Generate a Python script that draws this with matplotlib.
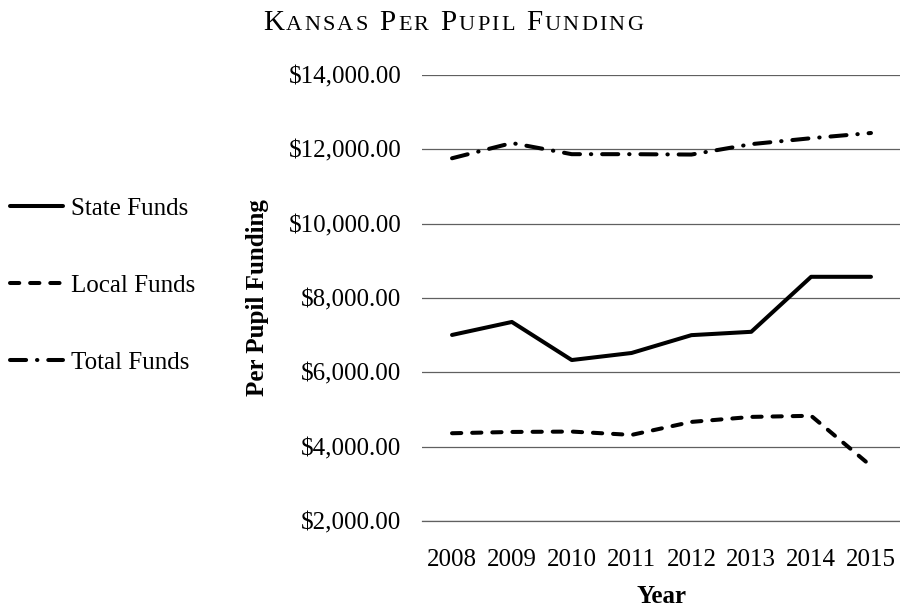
import matplotlib
matplotlib.use("Agg")
import matplotlib.pyplot as plt

years = ["2008", "2009", "2010", "2011", "2012", "2013", "2014", "2015"]
state_funds = [7005, 7355, 6330, 6520, 7000, 7090, 8570, 8570]
local_funds = [4360, 4395, 4405, 4315, 4665, 4800, 4830, 3480]
total_funds = [11760, 12170, 11870, 11870, 11860, 12140, 12300, 12440]
y_ticks = [2000, 4000, 6000, 8000, 10000, 12000, 14000]

plt.rcParams["font.family"] = ["Liberation Serif", "DejaVu Serif"]

fig = plt.figure(figsize=(9, 6.1), dpi=100)
ax = fig.add_axes([0.469, 0.146, 0.532, 0.731])

x = list(range(len(years)))
lw = 2.9
fs = 18

l1, = ax.plot(x, state_funds, color="black", lw=lw, solid_capstyle="round",
              solid_joinstyle="round", label="State Funds")
l2, = ax.plot(x, local_funds, color="black", lw=lw, linestyle=(0, (2.3, 2.7)),
              dash_capstyle="round", label="Local Funds")
l3, = ax.plot(x, total_funds, color="black", lw=lw,
              linestyle=(0, (4.0, 2.7, 0.1, 2.7)),
              dash_capstyle="round", label="Total Funds")

ax.set_xlim(-0.5, len(years) - 0.5)
ax.set_ylim(2000, 14000)
ax.set_yticks(y_ticks)
ax.set_yticklabels(["${:,.2f}".format(v) for v in y_ticks])
ax.set_xticks(x)
ax.set_xticklabels(years)
ax.tick_params(axis="both", length=0, labelsize=fs)
ax.tick_params(axis="y", pad=15)
ax.tick_params(axis="x", pad=20)
ax.grid(axis="y", color="#606060", lw=0.9)
ax.set_axisbelow(True)
for name, s in ax.spines.items():
    if name == "bottom":
        s.set_color("#606060")
        s.set_linewidth(0.9)
    else:
        s.set_visible(False)

ax.set_ylabel("Per Pupil Funding", fontsize=fs, fontweight="bold", labelpad=14)
ax.set_xlabel("Year", fontsize=fs, fontweight="bold", labelpad=10)

fig.legend(handles=[l1, l2, l3], loc="center left",
           bbox_to_anchor=(10 / 900, 1 - 286 / 610), frameon=False,
           fontsize=fs, handlelength=2.1, handletextpad=0.35,
           labelspacing=2.18, borderpad=0, borderaxespad=0)

# small caps title, letter by letter with a little tracking
title_parts = [("K", 21), ("ANSAS", 16), (" ", 0), ("P", 21), ("ER", 16),
               (" ", 0), ("P", 21), ("UPIL", 16), (" ", 0), ("F", 21),
               ("UNDING", 16)]
chars = []
for txt, size in title_parts:
    for c in txt:
        chars.append((c, size))

renderer = fig.canvas.get_renderer()
space_w = 0.25 * 21 * 100 / 72
widths = []
for c, size in chars:
    if c == " ":
        widths.append(space_w)
        continue
    t = fig.text(0, 0, c, fontsize=size)
    widths.append(t.get_window_extent(renderer).width)
    t.remove()

target_w = 380
track = (target_w - sum(widths)) / (len(chars) - 1)
x_px = 453 - target_w / 2
base_y = 1 - 30 / 610
for (c, size), w in zip(chars, widths):
    if c != " ":
        fig.text(x_px / 900, base_y, c, fontsize=size, va="baseline", ha="left")
    x_px += w + track

fig.savefig("out.png", dpi=100)
